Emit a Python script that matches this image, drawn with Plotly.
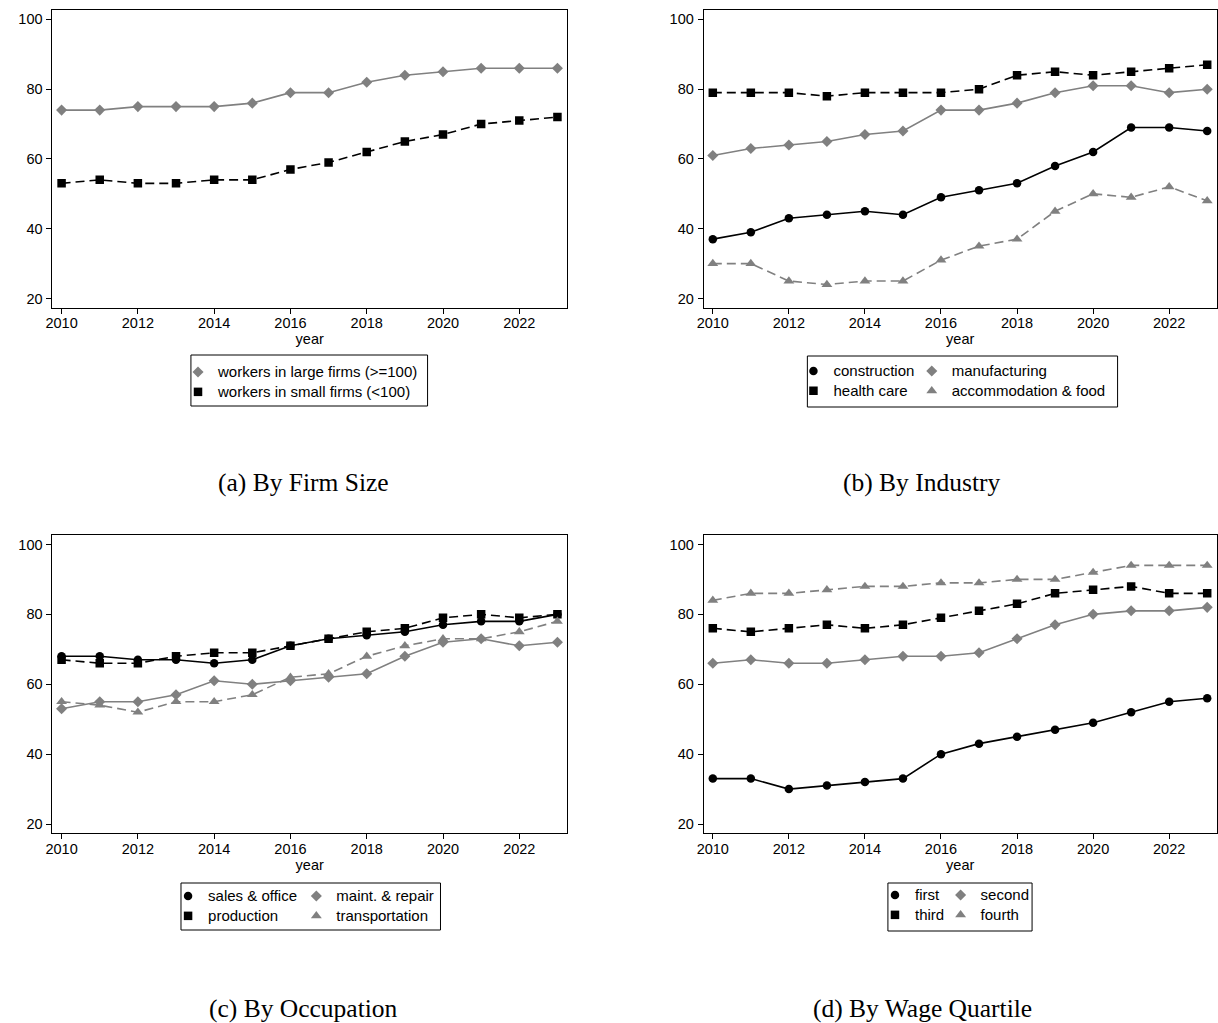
import plotly.graph_objects as go

# ---------------- data ----------------
years = list(range(2010, 2024))
x_ticks = [2010, 2012, 2014, 2016, 2018, 2020, 2022]
y_ticks = [20, 40, 60, 80, 100]

# (a) By Firm Size
firm_large = [74, 74, 75, 75, 75, 76, 79, 79, 82, 84, 85, 86, 86, 86]
firm_small = [53, 54, 53, 53, 54, 54, 57, 59, 62, 65, 67, 70, 71, 72]

# (b) By Industry
ind_construction = [37, 39, 43, 44, 45, 44, 49, 51, 53, 58, 62, 69, 69, 68]
ind_manufacturing = [61, 63, 64, 65, 67, 68, 74, 74, 76, 79, 81, 81, 79, 80]
ind_health = [79, 79, 79, 78, 79, 79, 79, 80, 84, 85, 84, 85, 86, 87]
ind_accommodation = [30, 30, 25, 24, 25, 25, 31, 35, 37, 45, 50, 49, 52, 48]

# (c) By Occupation
occ_sales = [68, 68, 67, 67, 66, 67, 71, 73, 74, 75, 77, 78, 78, 80]
occ_maint = [53, 55, 55, 57, 61, 60, 61, 62, 63, 68, 72, 73, 71, 72]
occ_production = [67, 66, 66, 68, 69, 69, 71, 73, 75, 76, 79, 80, 79, 80]
occ_transport = [55, 54, 52, 55, 55, 57, 62, 63, 68, 71, 73, 73, 75, 78]

# (d) By Wage Quartile
wq_first = [33, 33, 30, 31, 32, 33, 40, 43, 45, 47, 49, 52, 55, 56]
wq_second = [66, 67, 66, 66, 67, 68, 68, 69, 73, 77, 80, 81, 81, 82]
wq_third = [76, 75, 76, 77, 76, 77, 79, 81, 83, 86, 87, 88, 86, 86]
wq_fourth = [84, 86, 86, 87, 88, 88, 89, 89, 90, 90, 92, 94, 94, 94]

captions = ["(a) By Firm Size", "(b) By Industry", "(c) By Occupation", "(d) By Wage Quartile"]

# ---------------- styling ----------------
W, H = 1218, 1023
SANS = "Liberation Sans, Arial, Helvetica, sans-serif"
SERIF = "Liberation Serif, Times New Roman, serif"
BLACK = "#000000"
GRAY = "#808080"
DASH = "9px,5px"

STY = {
    "circle": dict(symbol="circle", color=BLACK, dash="solid", size=8.5),
    "square": dict(symbol="square", color=BLACK, dash=DASH, size=8.5),
    "diamond": dict(symbol="diamond", color=GRAY, dash="solid", size=8.5),
    "triangle": dict(symbol="triangle-up", color=GRAY, dash=DASH, size=9.5),
}


def fx(p):
    return p / W


def fy(p):
    return 1 - p / H


# panel: (axis suffix, x-domain px, y-domain px, series)
panels = [
    ("", (45.7, 563.2), (10, 307.7), [
        ("workers in large firms (>=100)", firm_large, "diamond", "legend"),
        ("workers in small firms (<100)", firm_small, "square", "legend"),
    ]),
    ("2", (700.7, 1216.7), (10, 307.7), [
        ("construction", ind_construction, "circle", "legend2"),
        ("manufacturing", ind_manufacturing, "diamond", "legend3"),
        ("health care", ind_health, "square", "legend2"),
        ("accommodation & food", ind_accommodation, "triangle", "legend3"),
    ]),
    ("3", (45.7, 563.2), (535, 833.3), [
        ("sales & office", occ_sales, "circle", "legend4"),
        ("maint. & repair", occ_maint, "diamond", "legend5"),
        ("production", occ_production, "square", "legend4"),
        ("transportation", occ_transport, "triangle", "legend5"),
    ]),
    ("4", (700.7, 1216.7), (535, 833.3), [
        ("first", wq_first, "circle", "legend6"),
        ("second", wq_second, "diamond", "legend7"),
        ("third", wq_third, "square", "legend6"),
        ("fourth", wq_fourth, "triangle", "legend7"),
    ]),
]

fig = go.Figure()
layout = dict(
    width=W, height=H,
    margin=dict(l=0, r=0, t=0, b=0),
    paper_bgcolor="white", plot_bgcolor="white",
    font=dict(family=SANS, size=14.5, color=BLACK),
    shapes=[], annotations=[],
)

for suf, (x0, x1), (y0, y1), series in panels:
    xa = "x" + suf
    ya = "y" + suf
    for name, vals, st, leg in series:
        s = STY[st]
        fig.add_trace(go.Scatter(
            x=years, y=vals, mode="lines+markers", name=name,
            xaxis=xa, yaxis=ya, showlegend=False, hoverinfo="x+y+name",
            line=dict(color=s["color"], width=1.6, dash=s["dash"]),
            marker=dict(symbol=s["symbol"], size=s["size"], color=s["color"], line=dict(width=0)),
        ))
    for name, vals, st, leg in series:
        s = STY[st]
        fig.add_trace(go.Scatter(
            x=[None], y=[None], mode="markers",
            name='<span style="font-size:15px">' + name + "</span>",
            xaxis=xa, yaxis=ya, showlegend=True, legend=leg,
            marker=dict(symbol=s["symbol"], size=s["size"], color=s["color"], line=dict(width=0)),
        ))
    axcommon = dict(
        showline=True, linecolor=BLACK, linewidth=1, mirror=True,
        ticks="outside", ticklen=5, tickwidth=1, tickcolor=BLACK,
        showgrid=False, zeroline=False, tickfont=dict(family=SANS, size=14.5, color=BLACK),
    )
    layout["xaxis" + suf] = dict(
        domain=[fx(x0), fx(x1)], anchor=ya, range=[2009.76, 2023.25],
        tickvals=x_ticks, ticklabelstandoff=-3,
        title=dict(text="year", standoff=2, font=dict(size=14.5)),
        **axcommon,
    )
    layout["yaxis" + suf] = dict(
        domain=[fy(y1), fy(y0)], anchor=xa, range=[17.35, 102.7],
        tickvals=y_ticks, ticklabelstandoff=1, **axcommon,
    )

# legends (positions in px: left, top)
legend_pos = {
    "legend": (172, 357),
    "legend2": (791, 356),
    "legend3": (910, 356),
    "legend4": (162, 881),
    "legend5": (291, 881),
    "legend6": (873, 880),
    "legend7": (939, 880),
}
for key, (lx, ly) in legend_pos.items():
    layout[key] = dict(
        x=fx(lx), y=fy(ly), xanchor="left", yanchor="top",
        bgcolor="rgba(0,0,0,0)", borderwidth=0, tracegroupgap=0,
        font=dict(family=SANS, size=13, color=BLACK),
        itemclick=False, itemdoubleclick=False,
    )

# legend boxes (px)
boxes = [(185, 355, 423, 406), (805, 356, 1117, 407), (175, 883, 436, 930), (886, 883, 1031, 931)]
for bx0, by0, bx1, by1 in boxes:
    layout["shapes"].append(dict(
        type="rect", xref="paper", yref="paper",
        x0=fx(bx0), x1=fx(bx1), y0=fy(by1), y1=fy(by0),
        line=dict(color=BLACK, width=1), fillcolor="rgba(0,0,0,0)",
    ))

# captions
cap_pos = [(298, 482), (920, 482), (298, 1008), (921, 1008)]
for text, (cx, cy) in zip(captions, cap_pos):
    layout["annotations"].append(dict(
        text=text, xref="paper", yref="paper", x=fx(cx), y=fy(cy),
        xanchor="center", yanchor="middle", showarrow=False,
        font=dict(family=SERIF, size=25.5, color=BLACK),
    ))

fig.update_layout(**layout)
fig.write_html(
    "out.html",
    config={"displayModeBar": False},
    post_script="document.body.style.margin='0';document.body.style.overflow='hidden';",
)
